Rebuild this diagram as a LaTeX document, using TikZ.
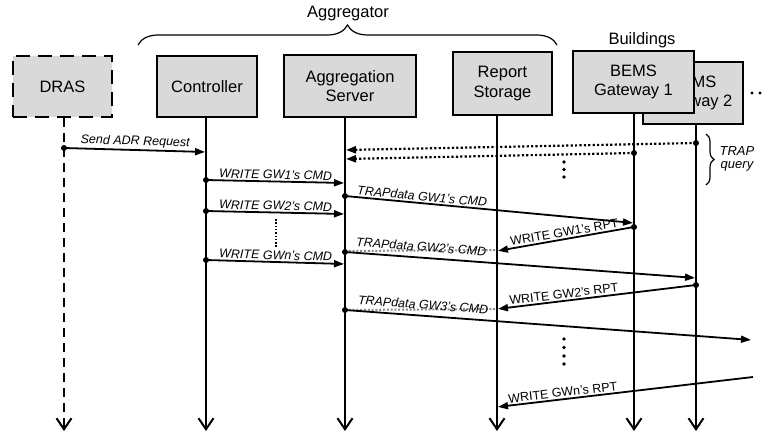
\documentclass[tikz,border=0pt]{standalone}
\usepackage{fontspec}
\setmainfont{Liberation Sans}
\usetikzlibrary{arrows.meta,decorations.pathreplacing}
\definecolor{boxgray}{HTML}{D9D9D9}
\definecolor{dotgray}{HTML}{8C8C8C}
\begin{document}
\begin{tikzpicture}[x=1pt,y=-1pt]
\tikzset{
 box/.style={draw, fill=boxgray, line width=1.8pt, align=center, inner sep=0pt, font=\fontsize{16.5}{19.5}\selectfont},
 life/.style={line width=2pt, -{Straight Barb[length=11pt,width=15pt]}},
 msg/.style={line width=1.8pt, -{Triangle[length=10pt,width=7pt]}, shorten >=1pt},
 qmsg/.style={msg, line width=2.2pt, dash pattern=on 2.2pt off 2.2pt},
 gmsg/.style={dotgray, line width=2pt, dash pattern=on 2pt off 1.8pt},
 lbl/.style={font=\fontsize{12.5}{14}\selectfont\itshape, inner sep=1.5pt},
 rlbl/.style={font=\fontsize{12.5}{14}\selectfont, inner sep=1.5pt},
 hdr/.style={font=\fontsize{16.5}{19.5}\selectfont},
}
\useasboundingbox (0,0) rectangle (764,434);

% boxes
\node[box, dash pattern=on 14pt off 8pt, line width=2.3pt, minimum width=99pt, minimum height=61pt] (dras) at (62.5,86.5) {DRAS};
\node[box, minimum width=100pt, minimum height=61pt] (ctrl) at (207,86.5) {Controller};
\node[box, minimum width=132pt, minimum height=62pt] (srv) at (350,86) {Aggregation\\Server};
\node[box, minimum width=99pt, minimum height=63pt] (rep) at (502.5,83.5) {Report\\Storage};
\node[box, minimum width=100pt, minimum height=62pt] (gw2) at (693,93) {BEMS\\Gateway 2};
\node[box, minimum width=121pt, minimum height=62pt] (gw1) at (633.5,82) {BEMS\\Gateway 1};

% headers
\node[hdr] (aggt) at (348,14) {Aggregator};
\node[hdr] (bldt) at (642,40) {Buildings};
\coordinate (brL) at (138,45);
\coordinate (brR) at (557,45);
\draw[line width=1.2pt, decorate, decoration={brace, amplitude=20pt}] (brL) -- (brR);
\fill (752,93) circle (1.7pt) (760,93) circle (1.7pt);

% lifelines
\coordinate (drasB) at (64,431);
\coordinate (ctrlB) at (206,431);
\coordinate (srvB) at (345,431);
\coordinate (repB) at (497,431);
\coordinate (gw1B) at (634,431);
\coordinate (gw2B) at (696,431);
\draw[life, dash pattern=on 9pt off 6pt] (dras.south -| drasB) -- (drasB);
\draw[life] (ctrl.south -| ctrlB) -- (ctrlB);
\draw[life] (srv.south -| srvB) -- (srvB);
\draw[life] (rep.south -| repB) -- (repB);
\draw[life] (gw1.south -| gw1B) -- (gw1B);
\draw[life] (gw2.south -| gw2B) -- (gw2B);

% message coordinates
\coordinate (m1s) at (64,148);  \coordinate (m1e) at (206,152);
\coordinate (q1s) at (696,143); \coordinate (q1e) at (345,150);
\coordinate (q2s) at (634,153); \coordinate (q2e) at (345,159);
\coordinate (w1s) at (206,180); \coordinate (w1e) at (345,183);
\coordinate (w2s) at (206,211); \coordinate (w2e) at (345,214);
\coordinate (wns) at (206,260); \coordinate (wne) at (345,264);
\coordinate (t1s) at (345,196); \coordinate (t1e) at (634,223);
\coordinate (r1s) at (634,227); \coordinate (r1e) at (497,251);
\coordinate (g2s) at (345,251); \coordinate (g2e) at (497,250);
\coordinate (t2s) at (345,252); \coordinate (t2e) at (696,278);
\coordinate (r2s) at (696,285); \coordinate (r2e) at (497,309);
\coordinate (g3s) at (345,310); \coordinate (g3e) at (497,309);
\coordinate (t3s) at (345,310); \coordinate (t3e) at (752,340);
\coordinate (rns) at (753,377); \coordinate (rne) at (497,407);

% gray dotted
\draw[gmsg] (g2s) -- (g2e);
\draw[gmsg] (g3s) -- (g3e);

% messages
\draw[msg] (m1s) -- node[lbl, sloped, above] {Send ADR Request} (m1e);
\draw[qmsg] (q1s) -- (q1e);
\draw[qmsg] (q2s) -- (q2e);
\draw[msg] (w1s) -- node[lbl, sloped, above] {WRITE GW1’s CMD} (w1e);
\draw[msg] (w2s) -- node[lbl, sloped, above] {WRITE GW2’s CMD} (w2e);
\draw[msg] (wns) -- node[lbl, sloped, above] {WRITE GWn’s CMD} (wne);
\draw[msg] (t1s) -- node[lbl, sloped, above, pos=0.265] {TRAPdata GW1’s CMD} (t1e);
\draw[msg] (r1s) -- node[rlbl, sloped, above, pos=0.5] {WRITE GW1’s RPT} (r1e);
\draw[msg] (t2s) -- node[lbl, sloped, above=4pt, pos=0.215] {TRAPdata GW2’s CMD} (t2e);
\draw[msg] (r2s) -- node[rlbl, sloped, above, pos=0.66] {WRITE GW2’s RPT} (r2e);
\draw[msg] (t3s) -- node[lbl, sloped, above=4pt, pos=0.19] {TRAPdata GW3’s CMD} (t3e);
\draw[msg] (rns) -- node[rlbl, sloped, above, pos=0.74] {WRITE GWn’s RPT} (rne);

% start dots
\foreach \p in {m1s,q1s,q2s,w1s,w2s,wns,t1s,r1s,t2s,r2s,t3s}
  \fill (\p) circle (3pt);

% vertical ellipses
\coordinate (vd1) at (276,219); \coordinate (vd2) at (276,247);
\draw[line width=1.5pt, dash pattern=on 1.5pt off 1.8pt] (vd1) -- (vd2);
\foreach \yy in {162,169.5,177} \fill (564,\yy) circle (1.9pt);
\foreach \yy in {339,347.5,356,364} \fill (564,\yy) circle (1.9pt);

% TRAP query brace
\coordinate (tqT) at (706,134);
\coordinate (tqB) at (706,185);
\draw[line width=1.2pt, decorate, decoration={brace, amplitude=8pt}] (tqT) -- (tqB);
\node[lbl, align=center, font=\fontsize{13}{13.5}\selectfont\itshape] (tq) at (737,159) {TRAP\\query};
\end{tikzpicture}
\end{document}
